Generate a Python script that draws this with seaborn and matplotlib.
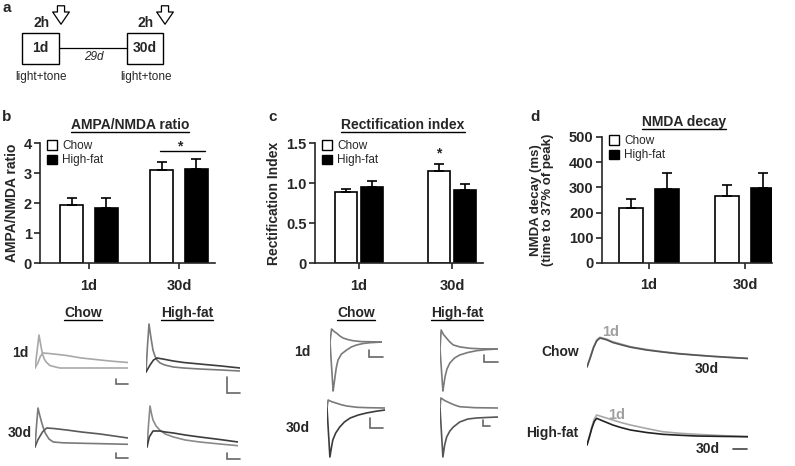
import pandas as pd
import matplotlib
matplotlib.use("Agg")
import matplotlib.pyplot as plt
import seaborn as sns
from matplotlib.patches import Patch, Rectangle

sns.set_style("ticks")
plt.rcParams["font.family"] = ["Liberation Sans", "DejaVu Sans"]

"""
BAR DATA
Mean and SEM read off the three bar panels (b, c, d).
"""
days = ["1d", "30d"]
diets = ["Chow", "High-fat"]

ampa_chow = [1.94, 3.11]
ampa_chow_sem = [0.23, 0.26]
ampa_hf = [1.86, 3.14]
ampa_hf_sem = [0.31, 0.33]

rect_chow = [0.89, 1.15]
rect_chow_sem = [0.04, 0.09]
rect_hf = [0.95, 0.92]
rect_hf_sem = [0.08, 0.07]

decay_chow = [219, 266]
decay_chow_sem = [34, 44]
decay_hf = [292, 296]
decay_hf_sem = [66, 62]

"""
EXAMPLE TRACES
Time (0-100 across the sweep) and amplitude (a.u., baseline = 0).
"""
# panel b: AMPA (fast) and NMDA (slow) components
b_chow1d_fast_t = [0, 2, 4.3, 6, 8, 10, 12, 16, 22, 27, 100]
b_chow1d_fast_a = [0, 15, 33, 24, 14, 9, 6, 2.5, 1, 0, 0]
b_chow1d_slow_t = [0, 3, 6, 8.6, 15, 25, 34, 50, 70, 85, 100]
b_chow1d_slow_a = [0, 5, 12, 15, 14.5, 13.5, 12.5, 10, 8, 6.6, 5.5]

b_hf1d_fast_t = [0, 1.5, 3.2, 5, 7.4, 9.5, 11.7, 15, 20, 29, 40, 57, 80, 100]
b_hf1d_fast_a = [0, 25, 48, 36, 22, 16, 12, 9, 7, 5, 4, 3, 2, 1]
b_hf1d_slow_t = [0, 4.3, 8, 11.7, 18, 29, 40, 57, 80, 100]
b_hf1d_slow_a = [0, 7, 12, 14, 13, 11, 9.5, 8, 6, 4]

b_chow30d_fast_t = [0, 1.5, 3.2, 5, 7, 9, 11, 15, 19.7, 30, 52, 100]
b_chow30d_fast_a = [0, 20, 39, 32, 25, 19, 14, 8, 5, 4.2, 3.7, 2.7]
b_chow30d_slow_t = [0, 3, 8, 12.5, 20, 34, 50, 70, 85, 100]
b_chow30d_slow_a = [0, 7, 15, 19, 18.5, 17, 15, 13, 11, 9]

b_hf30d_fast_t = [0, 1.5, 3.3, 5, 6.6, 10, 14, 20, 29, 42, 58, 80, 100]
b_hf30d_fast_a = [0, 20, 41, 33, 27, 21, 17, 13, 10, 7, 5, 3, 1.3]
b_hf30d_slow_t = [0, 2.5, 6.6, 14, 20, 29, 42, 58, 80, 100]
b_hf30d_slow_a = [0, 10, 16, 16, 15, 14, 12, 10, 7.5, 5]

# panel c: outward (+40 mV) and inward (-70 mV) currents
c_chow1d_up_t = [0, 3, 8, 13, 19, 25, 34, 44, 60, 100]
c_chow1d_up_a = [0, 13, 10.5, 8.7, 6, 4, 2.5, 1.3, 0.4, 0]
c_chow1d_dn_t = [0, 6, 7.8, 9.6, 12, 15.4, 22, 32, 41, 51, 64, 77, 100]
c_chow1d_dn_a = [0, -49, -42, -35, -26, -18, -12, -8, -5, -3, -1.5, -0.7, 0]

c_hf1d_up_t = [0, 2, 6, 11.5, 17, 23, 35, 52, 70, 100]
c_hf1d_up_a = [0, 19, 14.5, 10.7, 7, 4, 2, 0.7, 0.2, 0]
c_hf1d_dn_t = [0, 5, 6.8, 8.6, 12, 17, 25, 34, 48, 63, 80, 100]
c_hf1d_dn_a = [0, -42, -35, -28, -20, -14, -9, -6, -3.5, -1.7, -0.6, 0]

c_chow30d_up_t = [0, 2, 8, 17, 25, 34, 52, 70, 100]
c_chow30d_up_a = [0, 8, 6.3, 4.7, 3.2, 2, 0.7, 0.3, 0]
c_chow30d_dn_t = [0, 5, 7.5, 10, 15, 22, 30, 40, 54, 68, 84, 100]
c_chow30d_dn_a = [0, -49, -40, -32, -25, -19, -14, -10, -7, -5, -3.3, -2]

c_hf30d_up_t = [0, 1.5, 8, 17, 25, 34, 60, 100]
c_hf30d_up_a = [0, 10, 7.5, 5, 3, 1.3, 0.3, 0]
c_hf30d_dn_t = [0, 5, 8, 11.5, 17, 23, 34, 48, 63, 80, 100]
c_hf30d_dn_a = [0, -49, -37, -29, -23, -19, -14, -11, -10, -9.5, -9]

# panel d: NMDA currents, 1d vs 30d
d_chow_t = [0, 2, 4, 6, 8, 12, 16, 21, 27, 37, 47, 57, 68, 78, 89, 100]
d_chow_1d_a = [0, 10, 20, 27, 29.7, 28, 25.3, 23, 20.3, 17.5, 15.3, 13.5, 12, 10.8, 9.7, 8.7]
d_chow_30d_a = [0, 9, 19, 26, 29, 27.3, 24.5, 22.3, 19.8, 17, 15, 13.2, 11.8, 10.6, 9.5, 8.5]
d_hf_t = [0, 1.5, 3, 4.5, 6, 10, 16, 21, 27, 37, 47, 57, 68, 84, 100]
d_hf_1d_a = [0, 9, 18.3, 26, 30, 28, 25, 22.5, 20, 16.5, 13.3, 11.8, 10.7, 9.4, 8.3]
d_hf_30d_a = [0, 8, 16.7, 23.5, 26.7, 24, 20, 17.5, 15, 12.5, 10.7, 9.8, 9, 8.6, 8.3]


W, H = 795, 466
fig = plt.figure(figsize=(W / 100, H / 100), dpi=100)


def px_axes(left, top, right, bottom):
    return fig.add_axes([left / W, 1 - bottom / H, (right - left) / W, (bottom - top) / H])


# overlay for schematic and free text, in pixel units
ax0 = fig.add_axes([0, 0, 1, 1])
ax0.set_xlim(0, W)
ax0.set_ylim(H, 0)
ax0.axis("off")
ax0.patch.set_alpha(0)

underlined = []


def label(x, y, s, size=10, weight="bold", under=False, **kw):
    t = ax0.text(x, y, s, fontsize=size, fontweight=weight, ha=kw.pop("ha", "center"),
                 va=kw.pop("va", "center"), **kw)
    if under:
        underlined.append(t)
    return t


"""
PANEL A - protocol schematic
"""
label(7, 8, "a", size=11)
for x0, x1, txt in [(22, 59, "1d"), (127, 163, "30d")]:
    ax0.add_patch(Rectangle((x0, 33), x1 - x0, 31, fill=False, ec="black", lw=1))
    label((x0 + x1) / 2, 48.5, txt, size=10)
    label(x1 - 17, 23, "2h", size=10)
    ax0.annotate("", xy=(x1 + 2, 27), xytext=(x1 + 2, 3),
                 arrowprops=dict(arrowstyle="simple,head_width=0.75,head_length=0.55,tail_width=0.32",
                                 mutation_scale=16, fc="white", ec="black", lw=0.9))
    label((x0 + x1) / 2 + 1, 77, "light+tone", size=8.5, weight="normal")
ax0.plot([59, 127], [48, 48], color="black", lw=0.9)
label(94, 57, "29d", size=8.5, weight="normal", style="italic")


"""
BAR PANELS
"""
def bar_panel(box, centers_px, ylim, yticks, yticklabels, chow, chow_sem, hf, hf_sem,
              width, gap, legend_px):
    left, top, right, bottom = box
    ax = px_axes(left, top, right, bottom)
    df = pd.DataFrame({"day": days * 2,
                       "diet": [diets[0]] * 2 + [diets[1]] * 2,
                       "value": chow + hf})
    sns.barplot(data=df, x="day", y="value", hue="diet", order=days, hue_order=diets,
                palette=["white", "black"], edgecolor="black", linewidth=1.2,
                width=width, gap=gap, errorbar=None, legend=False, ax=ax)
    for patch, val, sem in zip(ax.patches, chow + hf, chow_sem + hf_sem):
        xc = patch.get_x() + patch.get_width() / 2
        ax.errorbar(xc, val, yerr=[[0], [sem]], fmt="none", ecolor="black",
                    elinewidth=1.2, capsize=3.6, capthick=1.2, zorder=1)
    unit = centers_px[1] - centers_px[0]
    ax.set_xlim((left - centers_px[0]) / unit, (right - centers_px[0]) / unit)
    ax.set_ylim(*ylim)
    ax.set_yticks(yticks)
    ax.set_yticklabels(yticklabels)
    ax.set_xlabel("")
    ax.set_ylabel("")
    sns.despine(ax=ax)
    for sp in ax.spines.values():
        sp.set_linewidth(1.2)
    ax.tick_params(direction="out", length=4, width=1.2, labelsize=10.5, pad=2)
    ax.tick_params(axis="x", pad=7)
    for t in ax.get_xticklabels() + ax.get_yticklabels():
        t.set_fontweight("bold")
    ax.patch.set_alpha(0)
    ax.legend(handles=[Patch(fc="white", ec="black", lw=1, label="Chow"),
                       Patch(fc="black", ec="black", lw=1, label="High-fat")],
              loc="upper left", bbox_to_anchor=(legend_px[0] / W, 1 - legend_px[1] / H),
              bbox_transform=fig.transFigure, frameon=False, fontsize=8.5,
              handlelength=0.85, handleheight=0.85, handletextpad=0.45,
              labelspacing=0.2, borderaxespad=0, borderpad=0)
    return ax


ax_b = bar_panel((40, 143.3, 215, 263.3), (89, 179), (0, 4), [0, 1, 2, 3, 4],
                 ["0", "1", "2", "3", "4"], ampa_chow, ampa_chow_sem, ampa_hf, ampa_hf_sem,
                 0.767, 0.32, (47, 140))
ax_b.plot([0.79, 1.29], [3.75, 3.75], color="black", lw=1, clip_on=False)
ax_b.text(1.01, 3.9, "*", ha="center", va="center", fontsize=10, fontweight="bold")

ax_c = bar_panel((315, 143.3, 483, 263.3), (359, 452), (0, 1.5), [0, 0.5, 1.0, 1.5],
                 ["0", "0.5", "1.0", "1.5"], rect_chow, rect_chow_sem, rect_hf, rect_hf_sem,
                 0.56, 0.12, (322, 140))
ax_c.text(1 - 0.14, 1.37, "*", ha="center", va="center", fontsize=10, fontweight="bold")

ax_d = bar_panel((602, 137, 772, 263), (649, 745), (0, 500), [0, 100, 200, 300, 400, 500],
                 ["0", "100", "200", "300", "400", "500"], decay_chow, decay_chow_sem,
                 decay_hf, decay_hf_sem, 0.75, 0.32, (609, 135))

label(7, 117, "b", size=11)
label(273, 117, "c", size=11)
label(535, 117, "d", size=11)
label(130, 125, "AMPA/NMDA ratio", size=10, under=True)
label(403, 125, "Rectification index", size=10, under=True)
label(684, 122, "NMDA decay", size=10, under=True)
label(12, 203, "AMPA/NMDA ratio", size=10, rotation=90)
label(274, 203, "Rectification Index", size=10, rotation=90)
label(542, 200, "NMDA decay (ms)\n(time to 37% of peak)", size=9.5, rotation=90,
      linespacing=1.0)


"""
TRACE INSETS
"""
def trace_inset(x0, x1, base, traces, scalebar=None):
    ax = px_axes(x0, base - 60, x1, base + 55)
    for t, a, col in traces:
        sns.lineplot(x=t, y=a, ax=ax, color=col, linewidth=1.2, estimator=None, sort=False)
    if scalebar is not None:
        tv, te, atop, abot = scalebar
        ax.plot([tv, tv, te], [atop, abot, abot], color="#666666", lw=1.2,
                solid_joinstyle="miter", clip_on=False)
    ax.set_xlim(0, 100)
    ax.set_ylim(-55, 60)
    ax.axis("off")
    ax.patch.set_alpha(0)
    return ax


LG, MG, DG = "#a8a8a8", "#7a7a7a", "#3c3c3c"

trace_inset(35, 128, 368, [(b_chow1d_fast_t, b_chow1d_fast_a, LG),
                           (b_chow1d_slow_t, b_chow1d_slow_a, LG)], (87, 100, -11, -16))
trace_inset(146, 240, 372, [(b_hf1d_fast_t, b_hf1d_fast_a, MG),
                            (b_hf1d_slow_t, b_hf1d_slow_a, DG)], (86, 100, -5, -21))
trace_inset(35, 128, 447, [(b_chow30d_fast_t, b_chow30d_fast_a, MG),
                           (b_chow30d_slow_t, b_chow30d_slow_a, "#5a5a5a")], (87, 100, -6, -11))
trace_inset(147, 238, 447, [(b_hf30d_fast_t, b_hf30d_fast_a, "#8a8a8a"),
                            (b_hf30d_slow_t, b_hf30d_slow_a, DG)], (88, 102, -6, -12))

trace_inset(330, 382, 342, [(c_chow1d_up_t, c_chow1d_up_a, MG),
                            (c_chow1d_dn_t, c_chow1d_dn_a, MG)], (75, 102, -8, -15))
trace_inset(440, 498, 349, [(c_hf1d_up_t, c_hf1d_up_a, MG),
                            (c_hf1d_dn_t, c_hf1d_dn_a, MG)], (76, 100, -6, -13))
trace_inset(327, 385, 408, [(c_chow30d_up_t, c_chow30d_up_a, MG),
                            (c_chow30d_dn_t, c_chow30d_dn_a, DG)], (74, 97, -10, -20))
trace_inset(440, 498, 408, [(c_hf30d_up_t, c_hf30d_up_a, MG),
                            (c_hf30d_dn_t, c_hf30d_dn_a, "#555555")], (74, 86, -12, -18))

trace_inset(587, 748, 367, [(d_chow_t, d_chow_1d_a, LG),
                            (d_chow_t, d_chow_30d_a, "#555555")])
trace_inset(587, 748, 445, [(d_hf_t, d_hf_1d_a, LG),
                            (d_hf_t, d_hf_30d_a, "#222222")])
ax0.plot([733, 747], [449, 449], color="#444444", lw=1.2)

label(83, 313, "Chow", under=True)
label(187, 313, "High-fat", under=True)
label(20, 353, "1d")
label(20, 433, "30d")
label(356, 313, "Chow", under=True)
label(457, 313, "High-fat", under=True)
label(302, 352, "1d")
label(298, 428, "30d")
label(560, 352, "Chow")
label(578, 433, "High-fat", ha="right")
label(611, 332, "1d", color="#a0a0a0", size=10.5)
label(707, 369, "30d")
label(617, 415, "1d", color="#a0a0a0", size=10.5)
label(708, 449, "30d")

# underline titles once text extents are known
fig.canvas.draw()
renderer = fig.canvas.get_renderer()
inv = ax0.transData.inverted()
for t in underlined:
    bb = t.get_window_extent(renderer)
    (ux0, uy), (ux1, _) = inv.transform([(bb.x0, bb.y0), (bb.x1, bb.y0)])
    ax0.plot([ux0, ux1], [uy - 0.5, uy - 0.5], color="black", lw=1)

fig.savefig("out.png", dpi=100)
